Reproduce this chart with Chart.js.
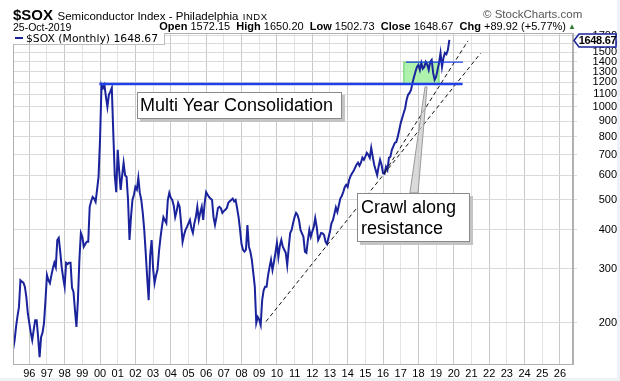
<!DOCTYPE html>
<html><head><meta charset="utf-8">
<script src="https://cdn.jsdelivr.net/npm/chart.js@4"></script>
<style>
html,body{margin:0;padding:0;background:#eef1f6;}
#wrap{position:relative;width:617px;height:378px;background:#fff;overflow:hidden;font-family:"Liberation Sans",Arial,sans-serif;color:#000;}
canvas{position:absolute;left:0;top:0;}
.t{position:absolute;white-space:nowrap;line-height:1;}
.box{position:absolute;background:#fff;border:1px solid #8a8a8a;box-shadow:3px 3px 0 #c4c4c4;font-size:18px;line-height:21px;box-sizing:border-box;white-space:nowrap;}
#legend{position:absolute;left:13px;top:33px;width:152px;height:12px;background:#fff;border-right:1px solid #bdbdbd;border-bottom:1px solid #bdbdbd;box-sizing:border-box;font-family:"DejaVu Sans",sans-serif;font-size:10.8px;line-height:12px;white-space:nowrap;}
#legend i{display:inline-block;width:8px;height:2px;background:#1a239b;vertical-align:middle;margin:0 3px 2px 2px;}
#lastlbl{position:absolute;left:578px;width:39px;text-align:center;font-weight:bold;font-size:11px;letter-spacing:-0.3px;line-height:13px;}
</style></head>
<body>
<div id="wrap">
<canvas id="c" width="617" height="378"></canvas>
<div class="t" style="left:13px;top:7px;"><b style="font-size:15px;">$SOX</b> <span style="font-size:11.5px;">Semiconductor Index - Philadelphia</span> <span style="font-size:9.5px;letter-spacing:0.5px;">INDX</span></div>
<div class="t" style="left:483px;top:9px;font-size:11.5px;color:#555;">© StockCharts.com</div>
<div class="t" style="left:13px;top:22px;font-size:10.5px;">25-Oct-2019</div>
<div class="t" style="right:51px;top:21px;font-size:11px;"><b>Open</b> 1572.15 &nbsp;<b>High</b> 1650.20 &nbsp;<b>Low</b> 1502.73 &nbsp;<b>Close</b> 1648.67 &nbsp;<b>Chg</b> +89.92 (+5.77%)</div>
<div class="t" style="left:568px;top:23px;font-size:8px;color:#2e7d32;">▲</div>
<div id="legend"><i></i>$SOX (Monthly) 1648.67</div>
<div class="box" style="left:137px;top:92px;width:205px;height:27px;padding:2px 0 0 2px;">Multi Year Consolidation</div>
<div class="box" style="left:357px;top:193px;width:113px;height:49px;padding:3px 0 0 3px;">Crawl along<br>resistance</div>
<div id="lastlbl">1648.67</div>
</div>
<script>
// ---- data ----
const startYear = 1995, startMonth = 2;   // first monthly close: Feb 1995
const closes = [
// 1995 Feb-Dec
164,175,194,210,225,275,272,270,262,243,215,
// 1996
200,186,176,190,204,204,180,155,180,186,200,237,
// 1997
286,275,269,285,300,313,303,371,377,340,303,280,
// 1998
262,313,310,313,313,260,252,220,194,237,320,391,
// 1999
380,353,360,366,366,475,495,511,505,493,540,594,
// 2000
782,1178,1150,1178,1080,1000,1094,1120,1152,824,600,530,
// 2001
726,620,539,600,659,600,594,500,371,440,500,520,
// 2002
551,540,589,527,500,454,400,337,280,237,330,371,
// 2003
300,269,285,297,340,377,410,440,430,421,500,527,
// 2004
508,500,480,440,460,489,475,420,366,385,400,409,
// 2005
420,431,405,391,420,440,475,431,455,475,431,489,
// 2006
530,520,511,505,500,440,415,440,471,475,470,454,
// 2007
460,465,470,489,495,500,505,495,500,470,440,400,
// 2008
360,345,340,345,415,353,340,320,290,262,200,209,
// 2009
205,197,237,255,262,262,285,303,320,297,315,337,
// 2010
363,327,355,371,353,345,337,308,350,391,400,421,
// 2011
440,454,447,430,400,390,380,340,337,370,400,380,
// 2012
395,409,437,409,371,380,391,390,385,366,360,377,
// 2013
395,420,430,450,473,457,480,505,515,530,550,560,
// 2014
551,580,598,610,620,635,650,660,645,660,685,674,
// 2015
690,710,700,684,737,690,650,625,602,640,674,650,
// 2016
610,608,640,625,684,690,726,745,765,770,800,842,
// 2017
887,920,956,990,1054,1094,1110,1135,1196,1250,1300,1347,
// 2018
1367,1317,1388,1330,1347,1398,1370,1317,1398,1419,1288,1223,
// 2019 Jan-Oct
1250,1320,1388,1495,1347,1440,1495,1480,1530,1648.67
];
const xTickYears = [1996,1997,1998,1999,2000,2001,2002,2003,2004,2005,2006,2007,2008,2009,2010,2011,2012,2013,2014,2015,2016,2017,2018,2019,2020,2021,2022,2023,2024,2025,2026];
const yTicks = [200,300,400,500,600,700,800,900,1000,1100,1200,1300,1400,1500,1600,1700];
const xRange = [1995.08, 2026.74];
const yRange = [147.3, 1734];
// annotations (in data units: decimal year, index value)
const supportLevel = 1187, supportX = [1999.96, 2020.50];
const upperLevel = 1395, upperX = [2017.30, 2020.52];
const trendLowX = [2009.38, 2021.52], trendLowY = [202, 1492];
const trendHighX = [2016.11, 2020.80], trendHighY = [616, 1635];
const boxX = [2017.15, 2019.19], boxY = [1187, 1400];
const pointerTip = [2018.43, 1161], pointerBaseX = [2017.52, 2017.98], pointerBaseY = 527;

// ---- build ----
const price = closes.map((v,i)=>({x: startYear + (startMonth-1+i)/12, y: v}));
const seg = (xs, ys) => xs.map((x,i)=>({x, y: ys[i]}));

const annot = {
  id:'annot',
  beforeDatasetsDraw(chart){
    const {ctx, scales:{x,y}} = chart;
    const x0=x.getPixelForValue(boxX[0]), x1=x.getPixelForValue(boxX[1]);
    const y0=y.getPixelForValue(boxY[1]), y1=y.getPixelForValue(boxY[0]);
    ctx.save();
    ctx.fillStyle='rgba(160,240,160,0.85)';
    ctx.fillRect(x0,y0,x1-x0,y1-y0);
    ctx.strokeStyle='#70d070'; ctx.lineWidth=1;
    ctx.strokeRect(x0+0.5,y0+0.5,x1-x0-1,y1-y0-1);
    ctx.restore();
  },
  afterDatasetsDraw(chart){
    const {ctx, scales:{x,y}, chartArea:a} = chart;
    ctx.save();
    const tx=x.getPixelForValue(pointerTip[0]), ty=y.getPixelForValue(pointerTip[1]);
    const bx0=x.getPixelForValue(pointerBaseX[0]), bx1=x.getPixelForValue(pointerBaseX[1]);
    const by=y.getPixelForValue(pointerBaseY);
    ctx.beginPath(); ctx.moveTo(bx0,by); ctx.lineTo(tx-1,ty); ctx.lineTo(tx+1,ty); ctx.lineTo(bx1,by); ctx.closePath();
    ctx.fillStyle='rgba(205,205,205,0.75)'; ctx.fill();
    ctx.strokeStyle='#999'; ctx.lineWidth=1; ctx.stroke();
    ctx.strokeStyle='#b0b0b0'; ctx.lineWidth=1;
    ctx.strokeRect(a.left+0.5,a.top+0.5,a.right-a.left-1,a.bottom-a.top);
    ctx.restore();
  },
  afterDraw(chart){
    const {ctx, scales:{y}, chartArea:a} = chart;
    const last = closes[closes.length-1];
    const yv = Math.round(y.getPixelForValue(last))+0.5;
    ctx.save();
    ctx.beginPath();
    ctx.moveTo(a.right+1, yv); ctx.lineTo(a.right+6, yv-6.5); ctx.lineTo(616, yv-6.5);
    ctx.lineTo(616, yv+6.5); ctx.lineTo(a.right+6, yv+6.5); ctx.closePath();
    ctx.fillStyle='#fff'; ctx.fill();
    ctx.strokeStyle='#1a239b'; ctx.lineWidth=1.5; ctx.stroke();
    ctx.restore();
    document.getElementById('lastlbl').style.top=(yv-6.5)+'px';
  }
};

new Chart(document.getElementById('c'), {
  type:'line',
  data:{datasets:[
    {data: seg(supportX,[supportLevel,supportLevel]), borderColor:'#2040e8', borderWidth:2.5, pointRadius:0, order:0},
    {data: seg(upperX,[upperLevel,upperLevel]), borderColor:'#2040e8', borderWidth:1.3, pointRadius:0, order:0},
    {data: seg(trendLowX,trendLowY), borderColor:'#111', borderWidth:1, borderDash:[4,3], pointRadius:0, order:0},
    {data: seg(trendHighX,trendHighY), borderColor:'#111', borderWidth:1, borderDash:[4,3], pointRadius:0, order:0},
    {label:'$SOX (Monthly)', data: price, borderColor:'#1a239b', borderWidth:2, pointRadius:0, tension:0, order:2}
  ]},
  options:{
    responsive:false, animation:false, devicePixelRatio:1,
    layout:{padding:{left:13, top:33, right:0, bottom:0}},
    plugins:{legend:{display:false}, tooltip:{enabled:false}},
    scales:{
      x:{type:'linear', min:xRange[0], max:xRange[1],
        afterBuildTicks:s=>{s.ticks = xTickYears.map(v=>({value:v}));},
        afterFit:s=>{s.height=14;},
        ticks:{autoSkip:false, maxRotation:0, padding:3, color:'#000',
          font:{family:'"Liberation Sans", Arial, sans-serif', size:11},
          callback:v=>String(v%100).padStart(2,'0')},
        grid:{drawTicks:false, color:c=> (c.tick && c.tick.value%2===0) ? '#c9c9c9' : '#e3e3e3'},
        border:{color:'#b0b0b0'}},
      y:{type:'logarithmic', position:'right', min:yRange[0], max:yRange[1],
        afterBuildTicks:s=>{s.ticks = yTicks.map(v=>({value:v}));},
        afterFit:s=>{s.width=44;},
        ticks:{autoSkip:false, crossAlign:'far', padding:0, color:'#000',
          font:{family:'"Liberation Sans", Arial, sans-serif', size:11},
          callback:v=>String(v)},
        grid:{color:'#dadada', tickLength:4},
        border:{color:'#b0b0b0'}}
    }
  },
  plugins:[annot]
});
</script>
</body></html>
